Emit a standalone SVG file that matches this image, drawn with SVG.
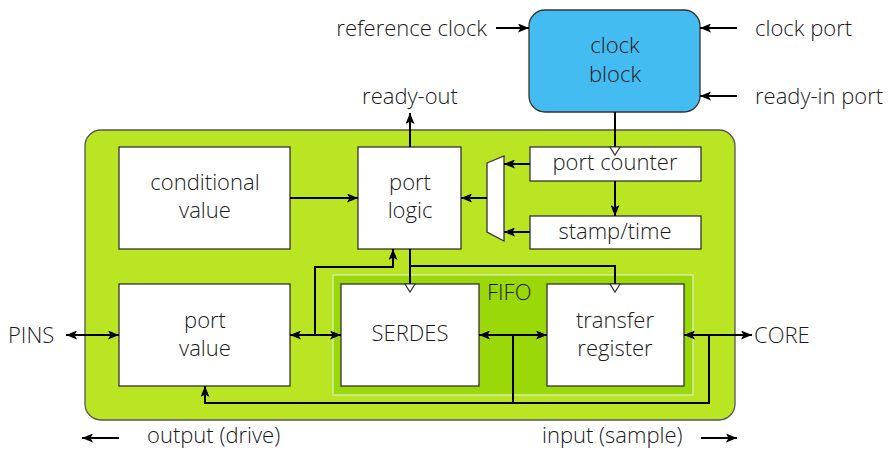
<svg xmlns="http://www.w3.org/2000/svg" width="889" height="450" viewBox="0 0 889 450">
<defs>
<marker id="ah" markerUnits="userSpaceOnUse" markerWidth="11" markerHeight="9" refX="11" refY="4.5" orient="auto-start-reverse" viewBox="0 0 11 9">
<path d="M0,0 L11,4.5 L0,9 L2.5,4.5 Z" fill="#000"/>
</marker>
<style>
text{font-family:"Open Sans","Liberation Sans",sans-serif;font-weight:300;font-size:22px;fill:#1a1a1a}
.c{text-anchor:middle}
.box{fill:#fff;stroke:#333;stroke-width:1.3}
.w{fill:none;stroke:#000;stroke-width:2}
.a{marker-end:url(#ah)}
.b{marker-start:url(#ah);marker-end:url(#ah)}
.clk{fill:#fff;stroke:#333;stroke-width:1.2}
</style>
</defs>
<g id="port-block"><rect x="85" y="130" width="650" height="290" rx="16" fill="#B9E522" stroke="#555" stroke-width="1.3"/></g>
<g id="fifo"><rect x="333" y="275" width="360" height="120" fill="#9BD80A" stroke="#D2ECA8" stroke-width="1.5"/><text x="487" y="300">FIFO</text></g>
<g id="clock-block"><rect x="529" y="10" width="171" height="102" rx="16" fill="#44BBF1" stroke="#333" stroke-width="1.3"/><text class="c" x="615" y="53">clock</text><text class="c" x="615" y="82">block</text></g>
<g id="conditional-value"><rect class="box" x="119" y="147" width="171" height="102"/><text class="c" x="205" y="190">conditional</text><text class="c" x="205" y="218">value</text></g>
<g id="port-logic"><rect class="box" x="358" y="147" width="103" height="102"/><text class="c" x="410" y="190">port</text><text class="c" x="410" y="218">logic</text></g>
<g id="port-counter"><rect class="box" x="530" y="147" width="171" height="34"/><text class="c" x="615" y="170">port counter</text></g>
<g id="stamp-time"><rect class="box" x="530" y="216" width="171" height="33"/><text class="c" x="615" y="239">stamp/time</text></g>
<g id="mux"><polygon points="487,163 504,156 504,241 487,232" fill="#fff" stroke="#333" stroke-width="1.3"/></g>
<g id="port-value"><rect class="box" x="119" y="284" width="171" height="102"/><text class="c" x="205" y="328">port</text><text class="c" x="205" y="356">value</text></g>
<g id="serdes"><rect class="box" x="341" y="284" width="138" height="102"/><text class="c" x="410" y="341">SERDES</text></g>
<g id="transfer-register"><rect class="box" x="547" y="284" width="137" height="102"/><text class="c" x="615" y="328">transfer</text><text class="c" x="615" y="356">register</text></g>
<g id="labels">
<text x="487" y="36" text-anchor="end">reference clock</text>
<text x="755" y="36">clock port</text>
<text x="755" y="104">ready-in port</text>
<text class="c" x="410" y="104">ready-out</text>
<text x="8" y="343">PINS</text>
<text x="754" y="343">CORE</text>
<text x="147" y="443">output (drive)</text>
<text x="542" y="443">input (sample)</text>
</g>
<g id="connectors">
<line class="w a" x1="496" y1="28" x2="529" y2="28"/>
<line class="w a" x1="737" y1="28" x2="700" y2="28"/>
<line class="w a" x1="737" y1="96" x2="700" y2="96"/>
<line class="w" x1="615" y1="112" x2="615" y2="147"/>
<line class="w a" x1="615" y1="181" x2="615" y2="216"/>
<line class="w a" x1="530" y1="164" x2="504" y2="164"/>
<line class="w a" x1="530" y1="232" x2="504" y2="232"/>
<line class="w a" x1="487" y1="198" x2="461" y2="198"/>
<line class="w a" x1="290" y1="198" x2="358" y2="198"/>
<line class="w a" x1="410" y1="147" x2="410" y2="113"/>
<line class="w b" x1="66" y1="335" x2="119" y2="335"/>
<line class="w b" x1="290" y1="335" x2="341" y2="335"/>
<polyline class="w a" points="315,335 315,267 393,267 393,249"/>
<line class="w" x1="410" y1="249" x2="410" y2="284"/>
<polyline class="w" points="410,266 615,266 615,284"/>
<line class="w b" x1="479" y1="335" x2="547" y2="335"/>
<line class="w" x1="513" y1="335" x2="513" y2="403"/>
<line class="w b" x1="684" y1="335" x2="752" y2="335"/>
<polyline class="w a" points="709,335 709,403 205,403 205,386"/>
<line class="w a" x1="119" y1="438" x2="82" y2="438"/>
<line class="w a" x1="701" y1="438" x2="737" y2="438"/>
<polygon class="clk" points="610,147 620,147 615,155"/>
<polygon class="clk" points="405,284 415,284 410,292"/>
<polygon class="clk" points="610,284 620,284 615,292"/>
</g>
</svg>
